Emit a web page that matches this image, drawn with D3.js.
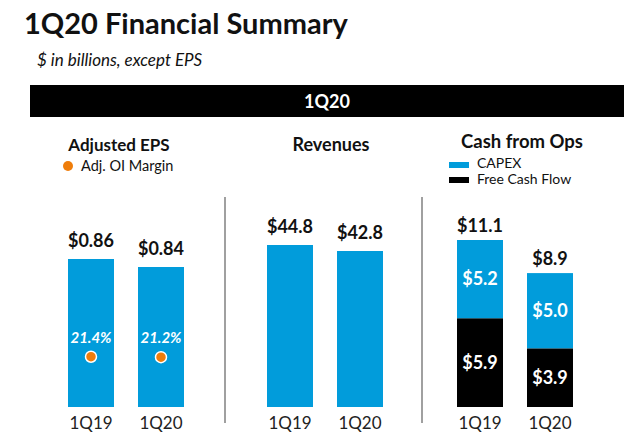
<!DOCTYPE html>
<html>
<head>
<meta charset="utf-8">
<script src="https://cdn.jsdelivr.net/npm/d3@7"></script>
<style>
  html, body { margin: 0; padding: 0; background: #fff; }
  svg { display: block; font-family: Lato, "Open Sans", sans-serif; }
</style>
</head>
<body>
<svg id="chart" width="640" height="444"></svg>
<script>
// ---- data ----
const categories = ["1Q19", "1Q20"];
const epsValues = [0.86, 0.84];
const epsLabels = ["$0.86", "$0.84"];
const marginValues = [21.4, 21.2];
const marginLabels = ["21.4%", "21.2%"];
const revenueValues = [44.8, 42.8];
const revenueLabels = ["$44.8", "$42.8"];
const capexValues = [5.2, 5.0];
const capexLabels = ["$5.2", "$5.0"];
const fcfValues = [5.9, 3.9];
const fcfLabels = ["$5.9", "$3.9"];
const cashTotals = [11.1, 8.9];
const cashTotalLabels = ["$11.1", "$8.9"];

const BLUE = "#019cdb", ORANGE = "#ef7d0a", TXT = "#111";
const svg = d3.select("#chart");
const bottom = 407;

// ---- header ----
svg.append("text").attr("x", 24).attr("y", 34)
  .attr("font-size", 29).attr("font-weight", 700).attr("fill", TXT)
  .text("1Q20 Financial Summary");
svg.append("text").attr("x", 37).attr("y", 66)
  .attr("font-size", 17).attr("font-style", "italic").attr("fill", TXT)
  .text("$ in billions, except EPS");
svg.append("rect").attr("x", 30).attr("y", 85).attr("width", 594).attr("height", 32).attr("fill", "#000");
svg.append("text").attr("x", 327).attr("y", 108).attr("text-anchor", "middle")
  .attr("font-size", 18).attr("font-weight", 700).attr("fill", "#fff").text("1Q20");

// dividers
[225, 422].forEach(x => svg.append("line").attr("x1", x).attr("x2", x)
  .attr("y1", 197).attr("y2", 423).attr("stroke", "#808080").attr("stroke-width", 1.5));

function panelTitle(text, x, y, size) {
  svg.append("text").attr("x", x).attr("y", y).attr("text-anchor", "middle")
    .attr("font-size", size).attr("font-weight", 700).attr("fill", TXT).text(text);
}
function xAxis(x) {
  const g = svg.append("g").attr("transform", `translate(0,${bottom})`)
    .call(d3.axisBottom(x).tickSize(0).tickPadding(10));
  g.select(".domain").remove();
  g.selectAll("text").attr("font-size", 17).attr("font-family", "Lato, sans-serif").attr("fill", "#222");
}
function topLabels(x, y, vals, labels, gap) {
  svg.append("g").selectAll("text").data(categories).join("text")
    .attr("x", d => x(d) + x.bandwidth() / 2)
    .attr("y", (d, i) => y(vals[i]) - gap)
    .attr("text-anchor", "middle").attr("font-size", 18).attr("font-weight", 700).attr("fill", TXT)
    .text((d, i) => labels[i]);
}

// ---- Adjusted EPS ----
const xE = d3.scaleBand().domain(categories).range([44, 208]).padding(0.343);
const yE = d3.scaleLinear().domain([0.49, 0.86]).range([bottom, 259]);
const yM = d3.scaleLinear().domain([0, 60]).range([bottom, 266]);
panelTitle("Adjusted EPS", 119, 151, 17);
svg.append("circle").attr("cx", 68).attr("cy", 166).attr("r", 5).attr("fill", ORANGE);
svg.append("text").attr("x", 81).attr("y", 171).attr("font-size", 14.5).attr("fill", TXT).text("Adj. OI Margin");
svg.append("g").selectAll("rect").data(categories).join("rect")
  .attr("x", d => xE(d)).attr("width", xE.bandwidth())
  .attr("y", (d, i) => yE(epsValues[i])).attr("height", (d, i) => bottom - yE(epsValues[i]))
  .attr("fill", BLUE);
topLabels(xE, yE, epsValues, epsLabels, 12);
svg.append("g").selectAll("text").data(categories).join("text")
  .attr("x", d => xE(d) + xE.bandwidth() / 2)
  .attr("y", (d, i) => yM(marginValues[i]) - 14)
  .attr("text-anchor", "middle").attr("font-size", 15).attr("font-weight", 700)
  .attr("font-style", "italic").attr("fill", "#fff").text((d, i) => marginLabels[i]);
svg.append("g").selectAll("circle").data(categories).join("circle")
  .attr("cx", d => xE(d) + xE.bandwidth() / 2)
  .attr("cy", (d, i) => yM(marginValues[i]))
  .attr("r", 5.5).attr("fill", ORANGE).attr("stroke", "#fff").attr("stroke-width", 1.5);
xAxis(xE);

// ---- Revenues ----
const xR = d3.scaleBand().domain(categories).range([243, 407]).padding(0.343);
const yR = d3.scaleLinear().domain([-9.2, 44.8]).range([bottom, 245]);
panelTitle("Revenues", 331, 151, 18);
svg.append("g").selectAll("rect").data(categories).join("rect")
  .attr("x", d => xR(d)).attr("width", xR.bandwidth())
  .attr("y", (d, i) => yR(revenueValues[i])).attr("height", (d, i) => bottom - yR(revenueValues[i]))
  .attr("fill", BLUE);
topLabels(xR, yR, revenueValues, revenueLabels, 12);
xAxis(xR);

// ---- Cash from Ops ----
const xC = d3.scaleBand().domain(categories).range([433, 597]).padding(0.343);
const yC = d3.scaleLinear().domain([0, 11.1]).range([bottom, 240]);
panelTitle("Cash from Ops", 522, 148, 18.5);
svg.append("rect").attr("x", 449).attr("y", 162).attr("width", 20).attr("height", 6).attr("fill", BLUE);
svg.append("text").attr("x", 477).attr("y", 168).attr("font-size", 14).attr("fill", TXT).text("CAPEX");
svg.append("rect").attr("x", 449).attr("y", 177).attr("width", 20).attr("height", 6).attr("fill", "#000");
svg.append("text").attr("x", 477).attr("y", 184).attr("font-size", 14).attr("fill", TXT).text("Free Cash Flow");

const stackData = categories.map((c, i) => ({ cat: c, fcf: fcfValues[i], capex: capexValues[i] }));
const series = d3.stack().keys(["fcf", "capex"])(stackData);
const colors = { fcf: "#000", capex: BLUE };
const segLabels = { fcf: fcfLabels, capex: capexLabels };
series.forEach(s => {
  const g = svg.append("g");
  g.selectAll("rect").data(s).join("rect")
    .attr("x", d => xC(d.data.cat)).attr("width", xC.bandwidth())
    .attr("y", d => yC(d[1])).attr("height", d => yC(d[0]) - yC(d[1]))
    .attr("fill", colors[s.key]);
  g.selectAll("text").data(s).join("text")
    .attr("x", d => xC(d.data.cat) + xC.bandwidth() / 2)
    .attr("y", d => (yC(d[0]) + yC(d[1])) / 2)
    .attr("dy", "0.35em")
    .attr("text-anchor", "middle").attr("font-size", 18).attr("font-weight", 700).attr("fill", "#fff")
    .text((d, i) => segLabels[s.key][i]);
});
topLabels(xC, yC, cashTotals, cashTotalLabels, 8);
xAxis(xC);
</script>
</body>
</html>
